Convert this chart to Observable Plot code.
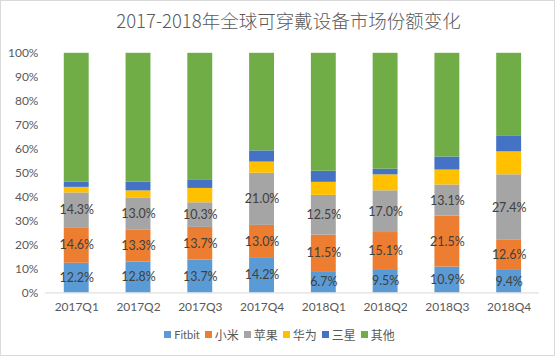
<!DOCTYPE html>
<html><head><meta charset="utf-8">
<script src="https://cdn.jsdelivr.net/npm/d3@7"></script>
<script src="https://cdn.jsdelivr.net/npm/@observablehq/plot@0.6"></script>
<style>
body{margin:0;background:#fff;}
#wrap{position:relative;width:555px;height:356px;box-sizing:border-box;border:1px solid #D9D9D9;overflow:hidden;font-family:Lato,"Noto Sans CJK SC",sans-serif;}
#title{position:absolute;left:0;width:555px;top:6px;text-align:center;font-size:18.5px;color:#595959;font-family:"Noto Sans CJK SC",sans-serif;font-weight:300;padding-left:20px;box-sizing:border-box;}
#legend{position:absolute;left:0;width:555px;top:325px;display:flex;justify-content:center;gap:5px;font-size:12px;color:#595959;padding-left:2px;box-sizing:border-box;}
#legend span{display:inline-flex;align-items:center;gap:3px;}
#legend i{display:inline-block;width:7px;height:7px;}
#chart{position:absolute;left:0;top:0;}
</style></head>
<body><div id="wrap"><div id="chart"></div><div id="title">2017-2018年全球可穿戴设备市场份额变化</div><div id="legend"></div></div>
<script>
const quarters = ["2017Q1","2017Q2","2017Q3","2017Q4","2018Q1","2018Q2","2018Q3","2018Q4"];
const seriesNames = ["Fitbit","小米","苹果","华为","三星","其他"];
const seriesColors = ["#5B9BD5","#ED7D31","#A5A5A5","#FFC000","#4472C4","#70AD47"];
const fitbit  = [12.2,12.8,13.7,14.2,6.7,9.5,10.9,9.4];
const xiaomi  = [14.6,13.3,13.7,13.0,11.5,15.1,21.5,12.6];
const apple   = [14.3,13.0,10.3,21.0,12.5,17.0,13.1,27.4];
const huawei  = [2.3,3.1,6.0,4.5,4.1,6.5,6.3,9.6];
const samsung = [2.1,3.7,3.6,4.5,3.5,2.3,5.5,6.7];
const others  = [53.0,53.2,52.9,39.3,37.1,47.2,43.7,34.5];
const labeled = ["Fitbit","小米","苹果"];
const yTicks = [0,0.1,0.2,0.3,0.4,0.5,0.6,0.7,0.8,0.9,1];

const cols = [fitbit, xiaomi, apple, huawei, samsung, others];
const data = [];
seriesNames.forEach((s, si) => quarters.forEach((q, qi) => data.push({q, s, v: cols[si][qi]})));

const stackOpts = {offset: "normalize", order: seriesNames};
const plot = Plot.plot({
  width: 555, height: 356,
  marginTop: 52, marginBottom: 63.5, marginLeft: 44, marginRight: 15,
  style: {fontFamily: 'Lato,"Noto Sans CJK SC",sans-serif', fontSize: "12px", color: "#595959", background: "transparent"},
  x: {domain: quarters, paddingInner: 0.6, paddingOuter: 0.3, label: null, tickSize: 0, tickPadding: 10},
  y: {domain: [0, 1], ticks: yTicks, tickFormat: d => Math.round(d * 100) + "%", label: null, tickSize: 0, tickPadding: 7},
  color: {domain: seriesNames, range: seriesColors},
  marks: [
    Plot.gridY(yTicks, {stroke: "#D9D9D9", strokeOpacity: 1, x1: 43, x2: 540}),
    Plot.barY(data, Plot.stackY({...stackOpts, x: "q", y: "v", fill: "s", z: "s"})),
    Plot.ruleY([0], {stroke: "#D9D9D9"}),
    Plot.textY(data, Plot.stackY({...stackOpts, x: "q", y: "v", z: "s",
      text: d => labeled.includes(d.s) ? d.v.toFixed(1) + "%" : "",
      fill: "#404040", fontSize: 12.5}))
  ]
});
document.getElementById("chart").appendChild(plot);

const lg = document.getElementById("legend");
seriesNames.forEach((s, i) => {
  const sp = document.createElement("span");
  sp.innerHTML = `<i style="background:${seriesColors[i]}"></i>${s}`;
  sp.style.fontSize = i === 0 ? "11px" : "12px";
  lg.appendChild(sp);
});
</script></body></html>
